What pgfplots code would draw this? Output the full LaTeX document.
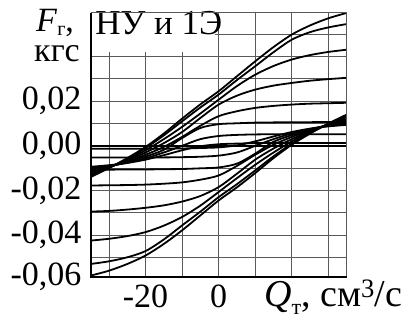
\documentclass[border=0pt]{standalone}
\usepackage{fontspec}
\setmainfont{Liberation Serif}
\usepackage{pgfplots}
\pgfplotsset{compat=1.18}
\begin{document}
\begin{tikzpicture}
\useasboundingbox (0,0) rectangle (408pt,326pt);
\begin{axis}[
  at={(90.7pt,49.3pt)}, anchor=south west,
  scale only axis, width=256pt, height=264pt,
  xmin=-35, xmax=35, ymin=-0.0587, ymax=0.0597,
  xtick={-30,-20,-10,0,10,20,30},
  xticklabels={{},{-20},{},{0},{},{},{}},
  ytick={-0.0587,-0.05,-0.04,-0.03,-0.02,-0.01,0,0.01,0.02,0.03,0.04,0.05},
  yticklabels={{-0,06},{},{-0,04},{},{-0,02},{},{0,00},{},{0,02},{},{},{}},
  scaled y ticks=false,
  major tick length=0pt,
  grid=major,
  grid style={line width=0.9pt, black!65},
  axis line style={draw=none},
  tick label style={font=\fontsize{34}{36}\selectfont},
  yticklabel style={inner sep=0pt, xshift=-9pt},
  xticklabel style={inner sep=0pt, yshift=-8pt},
  crv/.style={black, line width=1.8pt, no marks, smooth, solid},
  clip=false,
]
% family A
\addplot[crv] coordinates {(-35,-0.0140) (-30,-0.0100) (-25,-0.0055) (-20,-0.0005) (-15,0.0055) (-10,0.0122) (-5,0.0186) (0,0.0245) (5,0.0312) (10,0.0379) (15,0.0443) (20,0.0499) (25,0.0540) (30,0.0572) (35,0.0596)};
\addplot[crv] coordinates {(-35,-0.0135) (-30,-0.0098) (-25,-0.0058) (-20,-0.0010) (-15,0.0047) (-10,0.0110) (-5,0.0172) (0,0.0230) (5,0.0295) (10,0.0357) (15,0.0420) (20,0.0476) (25,0.0510) (30,0.0531) (35,0.0546)};
\addplot[crv] coordinates {(-35,-0.0128) (-30,-0.0097) (-25,-0.0062) (-20,-0.0020) (-15,0.0030) (-10,0.0085) (-5,0.0145) (0,0.0207) (5,0.0268) (10,0.0319) (15,0.0358) (20,0.0387) (25,0.0407) (30,0.0421) (35,0.0431)};
\addplot[crv] coordinates {(-35,-0.0120) (-30,-0.0096) (-25,-0.0066) (-20,-0.0030) (-15,0.0012) (-10,0.0062) (-5,0.0125) (0,0.0185) (5,0.0225) (10,0.0252) (15,0.0270) (20,0.0282) (25,0.0292) (30,0.0299) (35,0.0305)};
\addplot[crv] coordinates {(-35,-0.0113) (-30,-0.0094) (-25,-0.0070) (-20,-0.0040) (-15,-0.0005) (-10,0.0040) (-5,0.0090) (0,0.0133) (5,0.0155) (10,0.0170) (15,0.0179) (20,0.0185) (25,0.0189) (30,0.0191) (35,0.0193)};
\addplot[crv] coordinates {(-35,-0.0107) (-30,-0.0092) (-25,-0.0073) (-20,-0.0048) (-15,-0.0018) (-10,0.0035) (-5,0.0080) (0,0.0097) (5,0.0101) (10,0.0104) (15,0.0105) (20,0.0106) (25,0.0106) (30,0.0107) (35,0.0107)};
\addplot[crv] coordinates {(-35,-0.0100) (-30,-0.0090) (-25,-0.0076) (-20,-0.0056) (-15,-0.0030) (-10,0.0000) (-5,0.0030) (0,0.0044) (5,0.0049) (10,0.0051) (15,0.0052) (20,0.0052) (25,0.0052) (30,0.0052) (35,0.0052)};
\addplot[crv] coordinates {(-35,-0.0094) (-30,-0.0087) (-25,-0.0077) (-20,-0.0062) (-15,-0.0042) (-10,-0.0020) (-5,-0.0002) (0,0.0007) (5,0.0010) (10,0.0012) (15,0.0013) (20,0.0013) (25,0.0013) (30,0.0013) (35,0.0013)};
% family B
\addplot[crv] coordinates {(-35,-0.0582) (-30,-0.0560) (-25,-0.0530) (-20,-0.0492) (-15,-0.0440) (-10,-0.0379) (-5,-0.0312) (0,-0.0245) (5,-0.0186) (10,-0.0122) (15,-0.0055) (20,0.0005) (25,0.0055) (30,0.0100) (35,0.0140)};
\addplot[crv] coordinates {(-35,-0.0530) (-30,-0.0518) (-25,-0.0500) (-20,-0.0472) (-15,-0.0420) (-10,-0.0357) (-5,-0.0295) (0,-0.0230) (5,-0.0172) (10,-0.0110) (15,-0.0047) (20,0.0010) (25,0.0058) (30,0.0098) (35,0.0135)};
\addplot[crv] coordinates {(-35,-0.0425) (-30,-0.0417) (-25,-0.0405) (-20,-0.0387) (-15,-0.0358) (-10,-0.0319) (-5,-0.0268) (0,-0.0207) (5,-0.0145) (10,-0.0085) (15,-0.0030) (20,0.0020) (25,0.0062) (30,0.0097) (35,0.0128)};
\addplot[crv] coordinates {(-35,-0.0295) (-30,-0.0292) (-25,-0.0286) (-20,-0.0278) (-15,-0.0267) (-10,-0.0250) (-5,-0.0225) (0,-0.0185) (5,-0.0125) (10,-0.0062) (15,-0.0012) (20,0.0030) (25,0.0066) (30,0.0096) (35,0.0120)};
\addplot[crv] coordinates {(-35,-0.0178) (-30,-0.0177) (-25,-0.0176) (-20,-0.0174) (-15,-0.0170) (-10,-0.0164) (-5,-0.0152) (0,-0.0133) (5,-0.0090) (10,-0.0040) (15,0.0005) (20,0.0040) (25,0.0070) (30,0.0094) (35,0.0113)};
\addplot[crv] coordinates {(-35,-0.0107) (-30,-0.0107) (-25,-0.0106) (-20,-0.0106) (-15,-0.0105) (-10,-0.0104) (-5,-0.0101) (0,-0.0097) (5,-0.0080) (10,-0.0035) (15,0.0018) (20,0.0048) (25,0.0073) (30,0.0092) (35,0.0107)};
\addplot[crv] coordinates {(-35,-0.0052) (-30,-0.0052) (-25,-0.0052) (-20,-0.0052) (-15,-0.0052) (-10,-0.0051) (-5,-0.0049) (0,-0.0044) (5,-0.0030) (10,0.0000) (15,0.0030) (20,0.0056) (25,0.0076) (30,0.0090) (35,0.0100)};
\addplot[crv] coordinates {(-35,-0.0013) (-30,-0.0013) (-25,-0.0013) (-20,-0.0013) (-15,-0.0013) (-10,-0.0012) (-5,-0.0010) (0,-0.0007) (5,0.0002) (10,0.0020) (15,0.0042) (20,0.0062) (25,0.0077) (30,0.0087) (35,0.0094)};
% zero line
\addplot[crv, line width=2.6pt] coordinates {(-35,0) (35,0)};
% label box
\fill[white] (axis cs:-35,0.0422) rectangle (axis cs:-0.9,0.0597);
\node[anchor=base west, inner sep=0pt, font=\fontsize{35}{37}\selectfont] at (axis cs:-33.8,0.0497) {НУ и 1Э};
\draw[line width=0.9pt, black!65] (rel axis cs:0,1) -- (rel axis cs:1,1) -- (rel axis cs:1,0);
\draw[line width=2.2pt] (rel axis cs:0,1) -- (rel axis cs:0,0) -- (rel axis cs:1,0);
\end{axis}
\node[anchor=base west, inner sep=0pt, font=\fontsize{34}{36}\selectfont] at (36pt,294pt) {\textit{F}\raisebox{-4pt}{\fontsize{20}{20}\selectfont г},};
\node[anchor=base east, inner sep=0pt, font=\fontsize{34}{36}\selectfont] at (80pt,264pt) {кгс};
\node[anchor=base west, inner sep=0pt, font=\fontsize{38}{40}\selectfont] at (264pt,19pt) {\textit{Q}\raisebox{-8pt}{\fontsize{22}{22}\selectfont т}, см\textsuperscript{3}/с};
\end{tikzpicture}
\end{document}
